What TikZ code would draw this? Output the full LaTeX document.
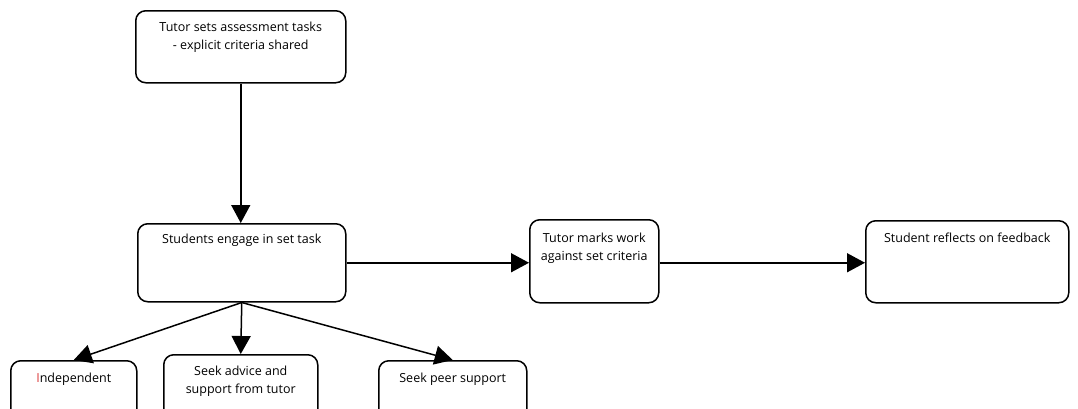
\documentclass[tikz,border=0pt]{standalone}
\usepackage{fontspec}
\setmainfont{Open Sans}
\usetikzlibrary{arrows.meta}
\newcommand\boxtext[4]{\parbox[t][#2pt][t]{#1pt}{\centering\vspace*{#3pt}#4}}
\tikzset{
  stepbox/.style={draw, rounded corners=10pt, line width=1.5pt, inner sep=0pt, anchor=north west,
    font=\fontsize{12.5pt}{18pt}\selectfont},
  arr/.style={line width=1.5pt, -{Triangle[length=18pt,width=19pt]}}
}
\begin{document}
\begin{tikzpicture}[x=1pt,y=-1pt]
\useasboundingbox (0,0) rectangle (1078,408);
\clip (0,0) rectangle (1078,408);
\node[stepbox] (tutor) at (135,10) {\boxtext{210}{72}{11}{Tutor sets assessment tasks\\- explicit criteria shared}};
\node[stepbox] (engage) at (137,223) {\boxtext{208}{78}{10}{Students engage in set task}};
\node[stepbox] (marks) at (529,219) {\boxtext{129}{83}{13}{Tutor marks work\\against set criteria}};
\node[stepbox] (reflect) at (865,220) {\boxtext{203}{82}{12}{Student reflects on feedback}};
\node[stepbox] (indep) at (10,360) {\boxtext{126}{80}{12}{\textcolor[RGB]{220,60,60}{I}ndependent}};
\node[stepbox] (advice) at (163,354) {\boxtext{154}{86}{11}{Seek advice and\\support from tutor}};
\node[stepbox] (peer) at (378,360) {\boxtext{148}{80}{12}{Seek peer support}};
\draw[arr] (tutor.south) -- (engage.north -| tutor.south);
\draw[arr] (engage.east) -- (marks.west |- engage.east);
\draw[arr] (marks.east |- engage.east) -- (reflect.west |- engage.east);
\draw[arr] (engage.south) -- (indep.north);
\draw[arr] (engage.south) -- (advice.north);
\draw[arr] (engage.south) -- (peer.north);
\end{tikzpicture}
\end{document}
